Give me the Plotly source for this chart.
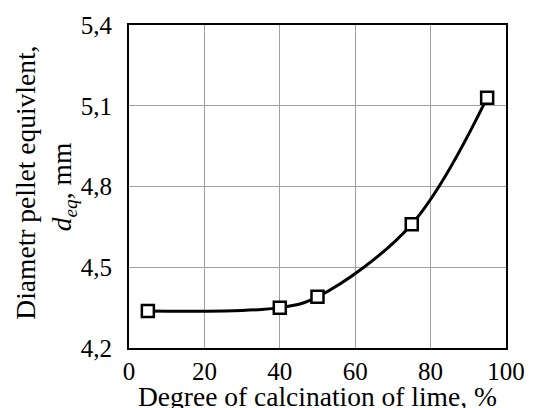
import plotly.graph_objects as go

x_vals = [5, 40, 50, 75, 95]
y_vals = [4.337, 4.350, 4.390, 4.660, 5.130]
x_ticks = [0, 20, 40, 60, 80, 100]
y_ticks = [4.2, 4.5, 4.8, 5.1, 5.4]

FONT = "Liberation Serif"
TICK = 25
TITLE = 27.5

fig = go.Figure()
fig.add_trace(go.Scatter(
    x=x_vals, y=y_vals, mode="lines+markers",
    line=dict(color="black", width=3, shape="spline", smoothing=1.0),
    marker=dict(symbol="square", size=12, color="white",
                line=dict(color="black", width=2.5)),
    showlegend=False,
))

fig.update_layout(
    width=537, height=408,
    margin=dict(l=129, r=27, t=20, b=60),
    paper_bgcolor="white", plot_bgcolor="white",
    separators=", ",
    font=dict(family=FONT, size=TICK, color="black"),
    xaxis=dict(range=[0, 100], tickvals=x_ticks, showgrid=True,
               gridcolor="#a0a0a0", gridwidth=1, showline=True,
               linecolor="black", linewidth=2, mirror=True, ticks="",
               zeroline=False, ticklabelstandoff=0,
               tickfont=dict(family=FONT, size=TICK, color="black")),
    yaxis=dict(range=[4.2, 5.4], tickvals=y_ticks, tickformat=".1f",
               showgrid=True, gridcolor="#a0a0a0", gridwidth=1,
               showline=True, linecolor="black", linewidth=2, mirror=True,
               ticks="", zeroline=False, ticklabelstandoff=10,
               tickfont=dict(family=FONT, size=TICK, color="black")),
)

fig.add_annotation(text="Diametr pellet equivlent,", xref="paper", yref="paper",
                   x=(24 - 129) / 381, y=(348 - 180) / 328, textangle=-90,
                   showarrow=False, xanchor="center", yanchor="middle",
                   font=dict(family=FONT, size=TITLE, color="black"))
fig.add_annotation(text="<i>d</i><sub><i>eq</i></sub>, mm", xref="paper", yref="paper",
                   x=(63 - 129) / 381, y=(348 - 185) / 328, textangle=-90,
                   showarrow=False, xanchor="center", yanchor="middle",
                   font=dict(family=FONT, size=TITLE, color="black"))
fig.add_annotation(text="Degree of calcination of lime, %", xref="paper", yref="paper",
                   x=(320 - 129) / 381, y=(348 - 397) / 328,
                   showarrow=False, xanchor="center", yanchor="middle",
                   font=dict(family=FONT, size=TITLE, color="black"))

fig.write_html("out.html")
